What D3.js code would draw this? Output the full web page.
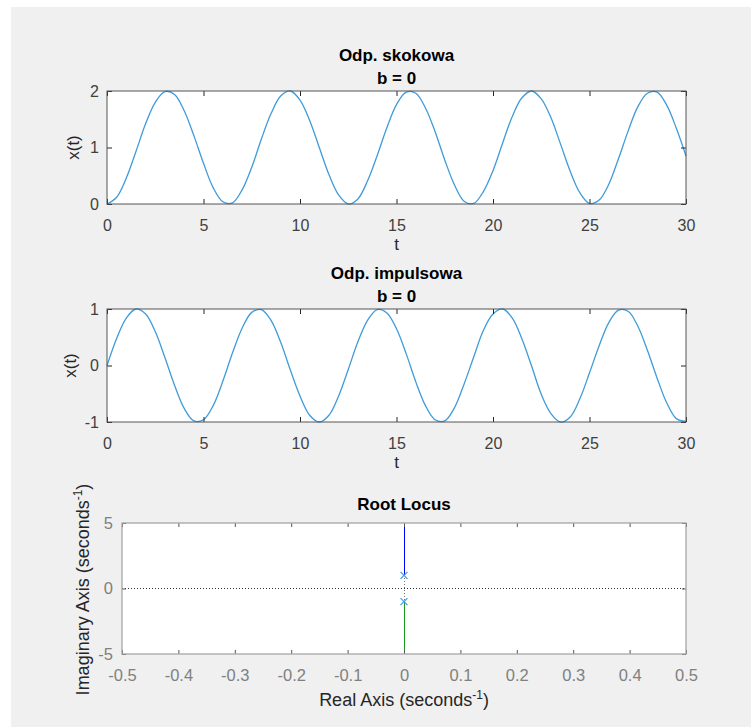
<!DOCTYPE html>
<html>
<head>
<meta charset="utf-8">
<script src="https://cdn.jsdelivr.net/npm/d3@7"></script>
<style>
  body { margin: 0; background: #fff; }
  text { font-family: "Liberation Sans", Arial, sans-serif; }
</style>
</head>
<body>
<svg id="fig"></svg>
<script>
// sample times, step 0.5 from 0 to 30
var tVals = [0,0.5,1,1.5,2,2.5,3,3.5,4,4.5,5,5.5,6,6.5,7,7.5,8,8.5,9,9.5,10,10.5,11,11.5,12,12.5,13,13.5,14,14.5,15,
  15.5,16,16.5,17,17.5,18,18.5,19,19.5,20,20.5,21,21.5,22,22.5,23,23.5,24,24.5,25,25.5,26,26.5,27,27.5,28,28.5,29,29.5,30]

// step response
var stepVals = [0,0.12,0.46,0.93,1.42,1.80,1.99,1.94,1.65,1.21,0.72,0.29,0.04,0.02,0.25,0.65,1.15,1.60,1.91,2.00,1.84,
  1.48,1.00,0.52,0.16,0.00,0.09,0.41,0.86,1.35,1.76,1.98,1.96,1.70,1.28,0.78,0.34,0.05,0.01,0.22,0.59,1.08,1.55,1.88,
  2.00,1.86,1.53,1.06,0.58,0.20,0.01,0.07,0.35,0.80,1.29,1.72,1.96,1.98,1.75,1.34,0.85]

// impulse response (middle plot)
var impVals = [0,0.48,0.84,1.00,0.91,0.60,0.14,-0.35,-0.76,-0.98,-0.96,-0.71,-0.28,0.22,0.66,0.94,0.99,0.80,0.41,-0.08,
  -0.54,-0.88,-1.00,-0.88,-0.54,-0.07,0.42,0.80,0.99,0.93,0.65,0.21,-0.29,-0.71,-0.96,-0.98,-0.75,-0.33,0.15,0.62,0.91,
  1.00,0.84,0.47,-0.01,-0.51,-0.85,-1.00,-0.91,-0.59,-0.13,0.35,0.76,0.98,0.96,0.70,0.27,-0.22,-0.66,-0.94,-0.99]

var tTicks = [0,5,10,15,20,25,30]
var stepTicks = [0,1,2]
var impTicks = [-1,0,1]

// root locus
var poles = [[0,1],[0,-1]]
var branchUp = [[0,1],[0,5]]
var branchDown = [[0,-1],[0,-5]]
var reTicks = [-0.5,-0.4,-0.3,-0.2,-0.1,0,0.1,0.2,0.3,0.4,0.5]
var imTicks = [-5,0,5]

var W = 751, H = 727
var svg = d3.select("#fig").attr("width", W).attr("height", H)

svg.append("rect").attr("x",0).attr("y",0).attr("width",W).attr("height",H).attr("fill","#fff")
svg.append("rect").attr("x",11).attr("y",7).attr("width",W-11).attr("height",H-7).attr("fill","#f0f0f0")

var lineBlue = "#3f9bd9"

var drawTimePlot = function(box, yDomain, yTicks, values, titleText, labelX, id)
{
  var x = d3.scaleLinear().domain([0,30]).range([box.left, box.right])
  var y = d3.scaleLinear().domain(yDomain).range([box.bottom, box.top])
  var g = svg.append("g")

  g.append("rect")
    .attr("x", box.left).attr("y", box.top)
    .attr("width", box.right-box.left).attr("height", box.bottom-box.top)
    .attr("fill", "#fff")

  g.append("clipPath").attr("id", id)
    .append("rect")
    .attr("x", box.left-1).attr("y", box.top-1)
    .attr("width", box.right-box.left+2).attr("height", box.bottom-box.top+2)

  var pts = tVals.map(function(t,i){ return [t, values[i]] })
  g.append("path")
    .datum(pts)
    .attr("clip-path", "url(#"+id+")")
    .attr("fill", "none")
    .attr("stroke", lineBlue)
    .attr("stroke-width", 1.3)
    .attr("d", d3.line()
      .x(function(d){ return x(d[0]) })
      .y(function(d){ return y(d[1]) })
      .curve(d3.curveCatmullRom.alpha(0.5)))

  var bottom = g.append("g")
    .attr("transform", "translate(0,"+box.bottom+")")
    .call(d3.axisBottom(x).tickValues(tTicks).tickSize(-5).tickPadding(16))
  var top = g.append("g")
    .attr("transform", "translate(0,"+box.top+")")
    .call(d3.axisTop(x).tickValues(tTicks).tickSize(-5).tickFormat(""))
  var left = g.append("g")
    .attr("transform", "translate("+box.left+",0)")
    .call(d3.axisLeft(y).tickValues(yTicks).tickSize(-5).tickPadding(8))
  var right = g.append("g")
    .attr("transform", "translate("+box.right+",0)")
    .call(d3.axisRight(y).tickValues(yTicks).tickSize(-5).tickFormat(""))

  ;[bottom, top, left, right].forEach(function(a){
    a.select(".domain").remove()
    a.selectAll("line").attr("stroke", "#262626")
    a.selectAll("text").attr("fill", "#404040").style("font-size", "16px")
      .style("font-family", "'Liberation Sans', Arial, sans-serif")
  })
  left.selectAll("text").text(function(d){ return d < 0 ? "-"+Math.abs(d) : d })

  g.append("rect")
    .attr("x", box.left).attr("y", box.top)
    .attr("width", box.right-box.left).attr("height", box.bottom-box.top)
    .attr("fill", "none").attr("stroke", "#555").attr("stroke-width", 1)

  var cx = (box.left+box.right)/2
  g.append("text").text(titleText)
    .attr("x", cx).attr("y", box.top-30)
    .attr("text-anchor", "middle").attr("font-weight", "bold")
    .style("font-size", "17px").attr("fill", "#000")
  g.append("text").text("b = 0")
    .attr("x", cx).attr("y", box.top-7)
    .attr("text-anchor", "middle").attr("font-weight", "bold")
    .style("font-size", "17px").attr("fill", "#000")

  g.append("text").text("t")
    .attr("x", cx).attr("y", box.bottom+46)
    .attr("text-anchor", "middle")
    .style("font-size", "17px").attr("fill", "#262626")
  g.append("text").text("x(t)")
    .attr("transform", "translate("+labelX+","+((box.top+box.bottom)/2)+") rotate(-90)")
    .attr("text-anchor", "middle")
    .style("font-size", "17px").attr("fill", "#262626")
}

drawTimePlot({left:107, right:686, top:91, bottom:204}, [0,2], stepTicks, stepVals, "Odp. skokowa", 79, "clip1")
drawTimePlot({left:107, right:686, top:309, bottom:422}, [-1,1], impTicks, impVals, "Odp. impulsowa", 76, "clip2")

// root locus panel
var rl = {left:122, right:686, top:523, bottom:654}
var xr = d3.scaleLinear().domain([-0.5,0.5]).range([rl.left, rl.right])
var yr = d3.scaleLinear().domain([-5,5]).range([rl.bottom, rl.top])
var g3 = svg.append("g")

g3.append("rect")
  .attr("x", rl.left).attr("y", rl.top)
  .attr("width", rl.right-rl.left).attr("height", rl.bottom-rl.top)
  .attr("fill", "#fff")

// dotted reference axes
g3.append("line")
  .attr("x1", xr(-0.5)).attr("x2", xr(0.5)).attr("y1", yr(0)).attr("y2", yr(0))
  .attr("stroke", "#333").attr("stroke-dasharray", "1,2").attr("stroke-width", 1)
  .attr("shape-rendering", "crispEdges")
g3.append("line")
  .attr("x1", xr(0)).attr("x2", xr(0)).attr("y1", yr(-5)).attr("y2", yr(5))
  .attr("stroke", "#777").attr("stroke-dasharray", "1,2").attr("stroke-width", 1)
  .attr("shape-rendering", "crispEdges")

var rlLine = d3.line()
  .x(function(d){ return xr(d[0]) })
  .y(function(d){ return yr(d[1]) })

g3.append("path").datum(branchUp).attr("d", rlLine)
  .attr("stroke", "#0000ff").attr("stroke-width", 1).attr("fill", "none")
  .attr("shape-rendering", "crispEdges")
g3.append("path").datum(branchDown).attr("d", rlLine)
  .attr("stroke", "#1a9a1a").attr("stroke-width", 1).attr("fill", "none")
  .attr("shape-rendering", "crispEdges")

g3.selectAll(".pole")
  .data(poles)
  .enter()
  .append("path")
  .classed("pole", true)
  .attr("transform", function(d){ return "translate("+xr(d[0])+","+yr(d[1])+")" })
  .attr("d", "M-3.5,-3.5L3.5,3.5M-3.5,3.5L3.5,-3.5")
  .attr("stroke", "#3f9bd9").attr("stroke-width", 1.2).attr("fill", "none")

var rb = g3.append("g")
  .attr("transform", "translate(0,"+rl.bottom+")")
  .call(d3.axisBottom(xr).tickValues(reTicks).tickSize(-4).tickPadding(15)
    .tickFormat(function(d){ return d === 0 ? "0" : (d < 0 ? "-" : "")+Math.abs(d).toFixed(1) }))
var rt = g3.append("g")
  .attr("transform", "translate(0,"+rl.top+")")
  .call(d3.axisTop(xr).tickValues(reTicks).tickSize(-4).tickFormat(""))
var rlft = g3.append("g")
  .attr("transform", "translate("+rl.left+",0)")
  .call(d3.axisLeft(yr).tickValues(imTicks).tickSize(-4).tickPadding(9)
    .tickFormat(function(d){ return d < 0 ? "-"+Math.abs(d) : d }))
var rr = g3.append("g")
  .attr("transform", "translate("+rl.right+",0)")
  .call(d3.axisRight(yr).tickValues(imTicks).tickSize(-4).tickFormat(""))

;[rb, rt, rlft, rr].forEach(function(a){
  a.select(".domain").remove()
  a.selectAll("line").attr("stroke", "#555")
  a.selectAll("text").attr("fill", "#808080").style("font-size", "16.5px")
    .style("font-family", "'Liberation Sans', Arial, sans-serif")
})

g3.append("rect")
  .attr("x", rl.left).attr("y", rl.top)
  .attr("width", rl.right-rl.left).attr("height", rl.bottom-rl.top)
  .attr("fill", "none").attr("stroke", "#a6a6a6").attr("stroke-width", 1.3)

g3.append("text").text("Root Locus")
  .attr("x", (rl.left+rl.right)/2).attr("y", rl.top-13)
  .attr("text-anchor", "middle").attr("font-weight", "bold")
  .style("font-size", "17px").attr("fill", "#000")

var realLab = g3.append("text")
  .attr("x", (rl.left+rl.right)/2).attr("y", 706)
  .attr("text-anchor", "middle")
  .style("font-size", "18px").attr("fill", "#262626")
realLab.append("tspan").text("Real Axis (seconds")
realLab.append("tspan").text("-1").attr("dy", -7).style("font-size", "12px")
realLab.append("tspan").text(")").attr("dy", 7)

var imagLab = g3.append("text")
  .attr("transform", "translate(89,"+((rl.top+rl.bottom)/2+1)+") rotate(-90)")
  .attr("text-anchor", "middle")
  .style("font-size", "18px").attr("fill", "#262626")
imagLab.append("tspan").text("Imaginary Axis (seconds")
imagLab.append("tspan").text("-1").attr("dy", -7).style("font-size", "12px")
imagLab.append("tspan").text(")").attr("dy", 7)
</script>
</body>
</html>
